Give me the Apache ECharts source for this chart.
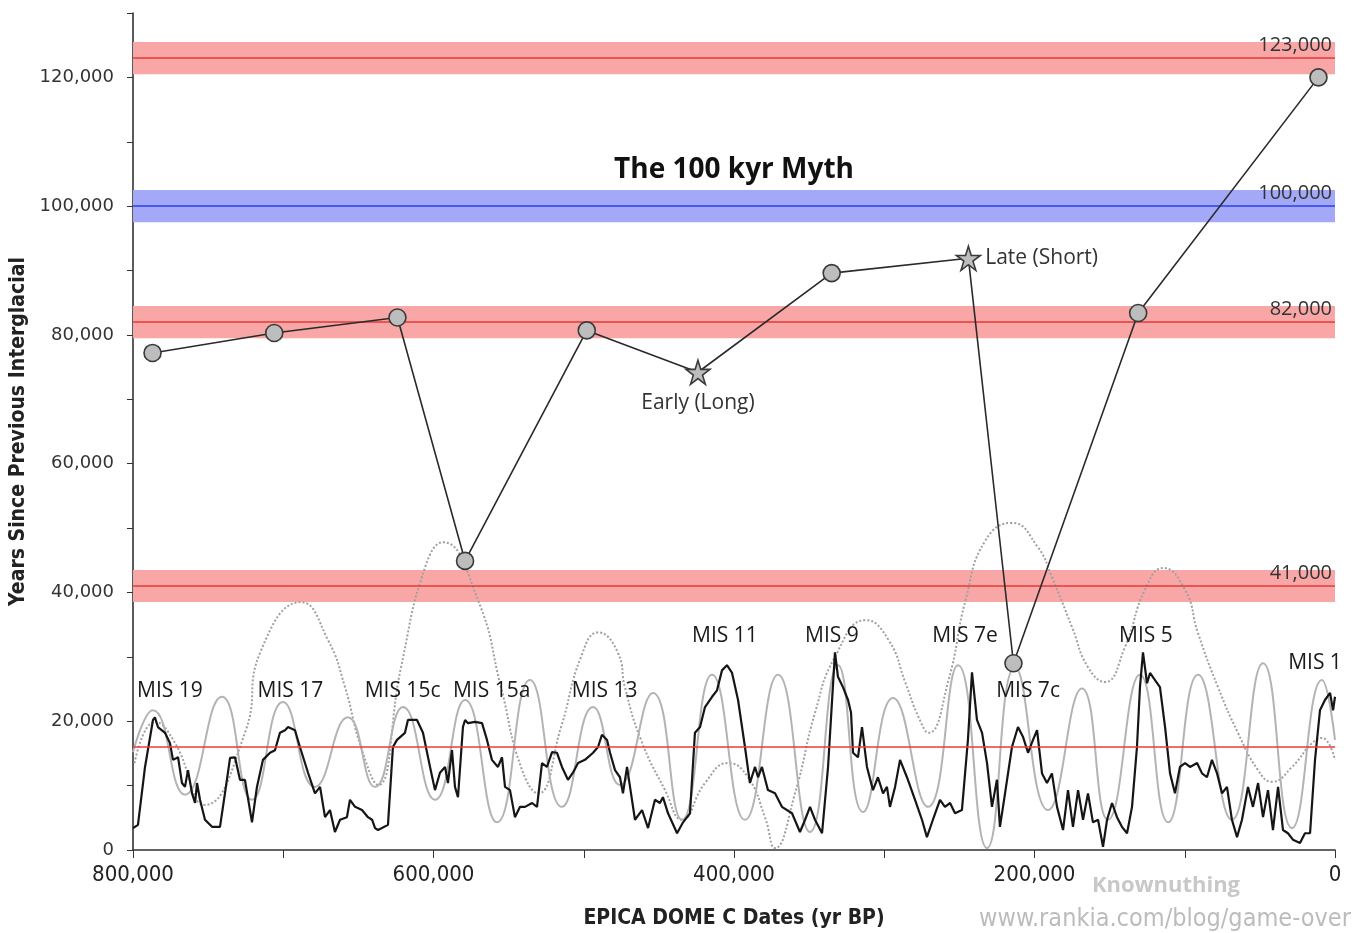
<!DOCTYPE html>
<html>
<head>
<meta charset="utf-8">
<title>The 100 kyr Myth</title>
<script src="https://cdn.jsdelivr.net/npm/echarts@6/dist/echarts.min.js"></script>
<style>
  html, body { margin: 0; padding: 0; background: #fff; }
  #main { width: 1369px; height: 933px; }
</style>
</head>
<body>
<div id="main"></div>
<script>
// interglacial dates (yr BP) and years since the previous one
var igAge = [787000, 706000, 624000, 579000, 498000, 424000, 335000, 244000, 214000, 131000, 11000]
var igGap = [77200, 80300, 82700, 44900, 80700, 74200, 89600, 91900, 29000, 83400, 120000]

// reference periods (bands) and the low line
var bandCenters = [123000, 100000, 82000, 41000]
var bandHalf = 2500
var lowLine = 16000

// EPICA Dome C record, scaled (black), [age, value]
var domeC = [
  [800000,3400],[796700,3900],[792000,12900],[786700,20200],[785400,20600],[783400,19100],[778700,18200],
  [775400,16600],[773400,14000],[770000,14400],[767400,10400],[765400,9800],[763400,12400],[760700,8800],
  [758700,7300],[757400,10400],[755400,7800],[752100,4700],[747400,3600],[742100,3600],[738800,8800],
  [735400,14300],[732100,14400],[728800,10900],[725500,10900],[720800,4300],[717500,9800],[713500,14000],
  [708800,15100],[705500,15500],[702200,18200],[698800,18600],[696800,19100],[692200,18600],[688900,16000],
  [683500,12000],[678900,8800],[675500,9800],[672200,5100],[668900,6200],[665600,2800],[662200,4700],
  [657600,5100],[655600,7800],[652200,6700],[647600,6200],[643600,5100],[640900,4700],[638900,3400],
  [636900,3100],[630300,3900],[627000,16000],[624300,17100],[619000,18200],[617000,20200],[611000,20200],
  [607000,18200],[602300,12900],[599000,9300],[595700,12000],[592300,12900],[590400,10400],[587700,15500],
  [585700,9800],[583700,8200],[580400,19100],[579000,20200],[577000,19700],[572400,19900],[567700,19700],
  [564400,17100],[561100,14000],[557100,12900],[554400,14400],[552400,9800],[549100,9300],[545800,5100],
  [542400,6700],[539100,6700],[534400,7300],[531100,6700],[527800,13500],[524500,12900],[521100,15200],
  [517800,15100],[514500,12900],[510500,10900],[507200,12000],[503800,13500],[499200,14000],[493800,15100],
  [490500,16000],[487900,17900],[484500,17100],[482500,15100],[479200,12400],[475900,11300],[473900,8800],
  [471200,12900],[469200,9800],[465900,4700],[461200,6200],[457200,3400],[452600,7800],[449300,7300],
  [447300,8200],[443900,5700],[437900,2600],[433900,4300],[429300,5700],[426000,18200],[422600,19100],
  [419300,22200],[414600,23800],[411300,24800],[408000,27900],[404700,28700],[401300,27500],[397300,23300],
  [392700,16000],[389400,10400],[386000,12900],[384000,11300],[381400,12900],[377400,9300],[372700,8800],
  [368100,6700],[361400,5700],[356100,2800],[352700,4700],[349400,6700],[346100,4700],[341400,2600],
  [337400,12900],[332800,30700],[330800,26900],[327500,25300],[324100,23300],[322100,21300],[320800,15100],
  [317500,14400],[314800,19100],[311500,12900],[307500,9300],[304200,11300],[300800,8800],[298200,9800],
  [296200,6700],[292800,9800],[289500,14000],[284900,11300],[279500,7800],[274900,4700],[271600,2000],
  [267600,4700],[262900,7800],[259600,6700],[256200,7300],[252900,5700],[248300,6200],[244300,17100],
  [241600,27600],[238300,20200],[234900,18200],[231600,13500],[228300,6700],[225000,10900],[223000,3600],
  [219600,8800],[215000,16000],[211000,19100],[207700,17600],[204300,15100],[201000,17100],[198300,18600],
  [195000,11900],[191700,10400],[188400,11900],[185000,6700],[181000,3100],[177700,9300],[174400,3600],
  [171000,9300],[167700,4700],[164400,8800],[161100,4300],[157700,4700],[154400,500],[151700,4700],
  [148400,7300],[145100,5100],[141800,3600],[138400,2600],[135100,6700],[131800,16000],[129800,25300],
  [127800,30700],[125100,25900],[123100,27500],[119800,26400],[116500,25300],[113100,19100],[109800,11900],
  [106500,8800],[103200,12900],[99800,13500],[96500,12900],[91800,13500],[88500,11900],[85200,11300],
  [81900,14000],[78500,11900],[75200,8800],[71900,9800],[68600,4700],[65200,2000],[61900,4700],
  [57900,9800],[54600,6700],[51200,10400],[47900,5100],[44600,9300],[41300,3100],[37900,9800],
  [34600,3100],[31300,2600],[28000,1600],[23300,1100],[20000,2600],[16600,2600],[13300,14000],
  [10000,21700],[6700,23300],[3300,24400],[1300,21700],[0,23800]
]

// grey solid curve (obliquity-like), peaks and troughs
var obliq = [
  [800000,15200],[786700,21700],[765400,8600],[740800,23800],[720800,7800],[700200,23000],[678900,9800],
  [657000,20600],[638900,9800],[620300,22200],[599000,7800],[579000,23300],[557700,4300],[535800,26400],
  [514500,6700],[493800,22200],[475900,10100],[453900,24400],[434600,4700],[414600,27200],[392700,4700],
  [370700,27200],[349400,2800],[330800,28700],[314100,5900],[294200,23600],[270900,6700],[250900,28700],
  [231600,300],[213000,28400],[191000,6200],[168400,25100],[151100,4700],[129800,27200],[111100,4300],
  [91200,27200],[68600,4700],[47900,29000],[28600,3400],[8700,26400],[0,17100]
]

// grey dotted curve
var dotted = [
  [799000,13500],[785400,19900],[772000,16600],[752100,7000],[725500,18200],[714800,31000],[688200,38500],
  [670200,32600],[658900,25300],[648300,16000],[636900,10100],[621600,28400],[605600,43900],[593700,47800],
  [570400,38800],[555100,25300],[541800,12900],[530400,8800],[515100,19100],[501800,30000],[490500,33800],
  [477200,30600],[472600,25300],[461900,17100],[445900,9300],[434600,4700],[419300,10400],[404000,13500],
  [390700,11300],[379400,5100],[372700,300],[359400,8800],[346100,21300],[332800,30000],[312300,35700],
  [297100,32600],[285800,25900],[277100,20600],[270500,18200],[257200,26400],[245900,38800],[232600,48100],
  [215000,50800],[197700,47000],[188400,42400],[175000,34600],[164400,28400],[153100,26100],[139800,31500],
  [126500,40400],[114500,43800],[99800,40400],[91200,33700],[77900,25300],[64600,18200],[51200,12400],
  [41900,10600],[28600,12900],[15300,16600],[8700,17400],[0,14000]
]

// MIS labels (text anchored in data units)
var misNames = ['MIS 19', 'MIS 17', 'MIS 15c', 'MIS 15a', 'MIS 13', 'MIS 11', 'MIS 9', 'MIS 7e', 'MIS 7c', 'MIS 5', 'MIS 1']
var misAge = [775400, 695200, 620600, 561300, 486100, 406000, 334800, 246300, 204300, 125800, 13300]
var misY = [24700, 24700, 24700, 24700, 24700, 33200, 33200, 33200, 24700, 33200, 29000]

var star = 'path://M50,2 L61.2,36.3 L97.5,36.3 L68.2,57.7 L79.4,92 L50,70.8 L20.6,92 L31.8,57.7 L2.5,36.3 L38.8,36.3 Z'
var txt = "'Open Sans', 'Noto Sans', sans-serif"
var narrow = "'Liberation Sans Narrow', 'DejaVu Sans Condensed', 'Open Sans', sans-serif"

var chart = echarts.init(document.getElementById('main'))

var fmt = function (v) { return Number(v).toLocaleString('en-US') }

var areas = [], lines = []
for (var i = 0; i < bandCenters.length; i++) {
  var blue = bandCenters[i] === 100000
  areas.push([
    { yAxis: bandCenters[i] - bandHalf, itemStyle: { color: blue ? '#a3a9f6' : '#f8a6a6' } },
    { yAxis: bandCenters[i] + bandHalf }
  ])
  lines.push({
    yAxis: bandCenters[i],
    lineStyle: { color: blue ? '#2a3ff0' : '#e53838', width: 1.6, type: 'solid' },
    label: { show: true, formatter: fmt(bandCenters[i]) }
  })
}
lines.push({ yAxis: lowLine, lineStyle: { color: '#ec3a3a', width: 1.6, type: 'solid' }, label: { show: false } })

var mainData = []
for (var j = 0; j < igAge.length; j++) {
  var item = { value: [igAge[j], igGap[j]] }
  if (j === 5) {
    item.symbol = star; item.symbolSize = 24
    item.label = { show: true, position: 'bottom', distance: 7, formatter: 'Early (Long)' }
  }
  if (j === 7) {
    item.symbol = star; item.symbolSize = 24
    item.label = { show: true, position: 'right', distance: 4, formatter: 'Late (Short)' }
  }
  mainData.push(item)
}

var misData = misNames.map(function (n, k) { return { name: n, value: [misAge[k], misY[k]] } })

var option = {
  backgroundColor: '#fff',
  animation: false,
  grid: { left: 133, right: 34, top: 13, bottom: 83, outerBoundsMode: 'none' },
  xAxis: {
    type: 'value', inverse: true, min: 0, max: 800000, interval: 200000,
    name: 'EPICA DOME C Dates (yr BP)', nameLocation: 'middle', nameGap: 58,
    nameTextStyle: { fontFamily: narrow, fontWeight: 'bold', fontSize: 21, color: '#222' },
    axisLine: { onZero: false, lineStyle: { color: '#333', width: 1.6 } },
    axisTick: { show: true, length: 8, lineStyle: { color: '#333' } },
    minorTick: { show: true, splitNumber: 2, length: 8, lineStyle: { color: '#333' } },
    axisLabel: { formatter: fmt, fontFamily: narrow, fontSize: 22, color: '#222', margin: 14 },
    splitLine: { show: false }
  },
  yAxis: {
    type: 'value', position: 'left', min: 0, max: 130000, interval: 20000,
    name: 'Years Since Previous Interglacial', nameLocation: 'middle', nameGap: 102, nameRotate: 90,
    nameTextStyle: { fontFamily: narrow, fontWeight: 'bold', fontSize: 21, color: '#222' },
    axisLine: { onZero: false, lineStyle: { color: '#333', width: 1.6 } },
    axisTick: { show: true, length: 6, lineStyle: { color: '#333' } },
    minorTick: { show: true, splitNumber: 2, length: 6, lineStyle: { color: '#333' } },
    axisLabel: { formatter: fmt, fontFamily: "'DejaVu Sans', sans-serif", fontSize: 18, color: '#333', margin: 19, showMaxLabel: false },
    splitLine: { show: false }
  },
  graphic: [
    { type: 'text', x: 734, y: 170, style: { text: 'The 100 kyr Myth', fontFamily: txt, fontWeight: 'bold', fontSize: 28, fill: '#111', align: 'center', verticalAlign: 'middle' } },
    { type: 'text', x: 1166, y: 886, style: { text: 'Knownuthing', fontFamily: txt, fontWeight: 'bold', fontSize: 22, fill: '#c8c8c8', align: 'center', verticalAlign: 'middle' } },
    { type: 'text', x: 1165, y: 919, style: { text: 'www.rankia.com/blog/game-over', fontFamily: narrow, fontSize: 25, fill: '#bcbcbc', align: 'center', verticalAlign: 'middle' } }
  ],
  series: [
    {
      name: 'dotted', type: 'line', data: dotted, smooth: true, symbol: 'none', z: 2,
      lineStyle: { color: '#a0a0a0', width: 2, type: 'dotted' },
      markArea: { silent: true, data: areas },
      markLine: {
        silent: true, symbol: ['none', 'none'], data: lines,
        label: { position: 'insideStartTop', distance: 3, fontFamily: txt, fontSize: 20, color: '#333' }
      }
    },
    {
      name: 'obliquity', type: 'line', data: obliq, smooth: true, symbol: 'none', z: 3,
      lineStyle: { color: '#b3b3b3', width: 2 }
    },
    {
      name: 'domeC', type: 'line', data: domeC, symbol: 'none', z: 4,
      lineStyle: { color: '#151515', width: 2.2 }
    },
    {
      name: 'interglacial', type: 'line', data: mainData, z: 10,
      symbol: 'circle', symbolSize: 17,
      lineStyle: { color: '#2a2a2a', width: 1.6 },
      itemStyle: { color: '#bdbdbd', borderColor: '#3a3a3a', borderWidth: 1.6 },
      label: { fontFamily: txt, fontSize: 21, color: '#333' }
    },
    {
      name: 'mis', type: 'scatter', data: misData, symbolSize: 1, z: 11, silent: true, clip: false,
      itemStyle: { opacity: 0 },
      label: { show: true, position: 'inside', formatter: '{b}', fontFamily: txt, fontSize: 21,
        color: '#1a1a1a', textBorderWidth: 0, opacity: 1 },
      labelLayout: { hideOverlap: false }
    }
  ]
}

chart.setOption(option)
</script>
</body>
</html>
